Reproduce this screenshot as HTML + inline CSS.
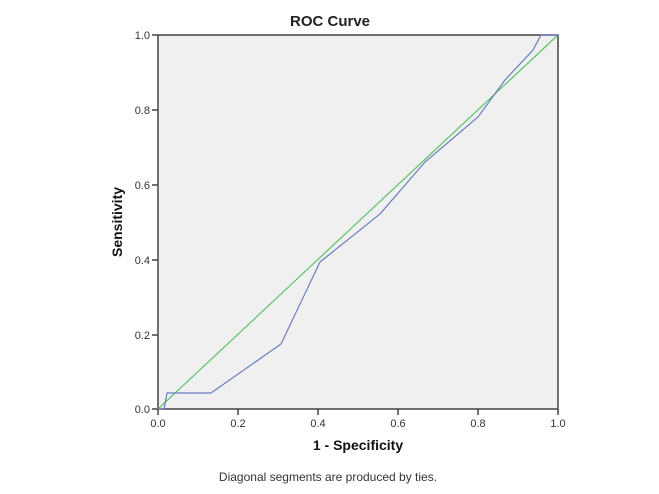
<!DOCTYPE html>
<html><head><style>
html,body{margin:0;padding:0;background:#fff;}
svg{display:block;font-family:"Liberation Sans",sans-serif;}
</style></head><body>
<svg width="659" height="494" viewBox="0 0 659 494">
<rect x="158" y="35" width="400" height="374" fill="#f0f0f0"/>
<text x="330" y="26" font-size="15" font-weight="bold" text-anchor="middle" fill="#222">ROC Curve</text>
<g stroke="#444" stroke-width="1.5" fill="none">
<path d="M158,35 V409 H558 V35 H158"/>
<path d="M152,35H158M152,110H158M152,185H158M152,260H158M152,335H158M152,409H158"/>
<path d="M158,409V415M238,409V415M318,409V415M398,409V415M478,409V415M558,409V415"/>
</g>
<g font-size="11" fill="#333" text-anchor="end">
<text x="150" y="39">1.0</text><text x="150" y="114">0.8</text><text x="150" y="189">0.6</text>
<text x="150" y="264">0.4</text><text x="150" y="339">0.2</text><text x="150" y="413">0.0</text>
</g>
<g font-size="11" fill="#333" text-anchor="middle">
<text x="158" y="427">0.0</text><text x="238" y="427">0.2</text><text x="318" y="427">0.4</text>
<text x="398" y="427">0.6</text><text x="478" y="427">0.8</text><text x="558" y="427">1.0</text>
</g>
<text x="358" y="450" font-size="14" font-weight="bold" text-anchor="middle" fill="#111">1 - Specificity</text>
<text x="122" y="222" font-size="14" font-weight="bold" text-anchor="middle" fill="#111" transform="rotate(-90 122 222)">Sensitivity</text>
<text x="328" y="481" font-size="12" text-anchor="middle" fill="#333">Diagonal segments are produced by ties.</text>
<line x1="158" y1="409" x2="558" y2="35" stroke="#5cc36a" stroke-width="1.2"/>
<polyline points="158,409 164,409 167,393 211,393 281,344 320,262 380,214 425,162 478,117 505,80 533,50 541,35 558,35" fill="none" stroke="#6a7cc0" stroke-width="1.2"/>
</svg>
</body></html>
